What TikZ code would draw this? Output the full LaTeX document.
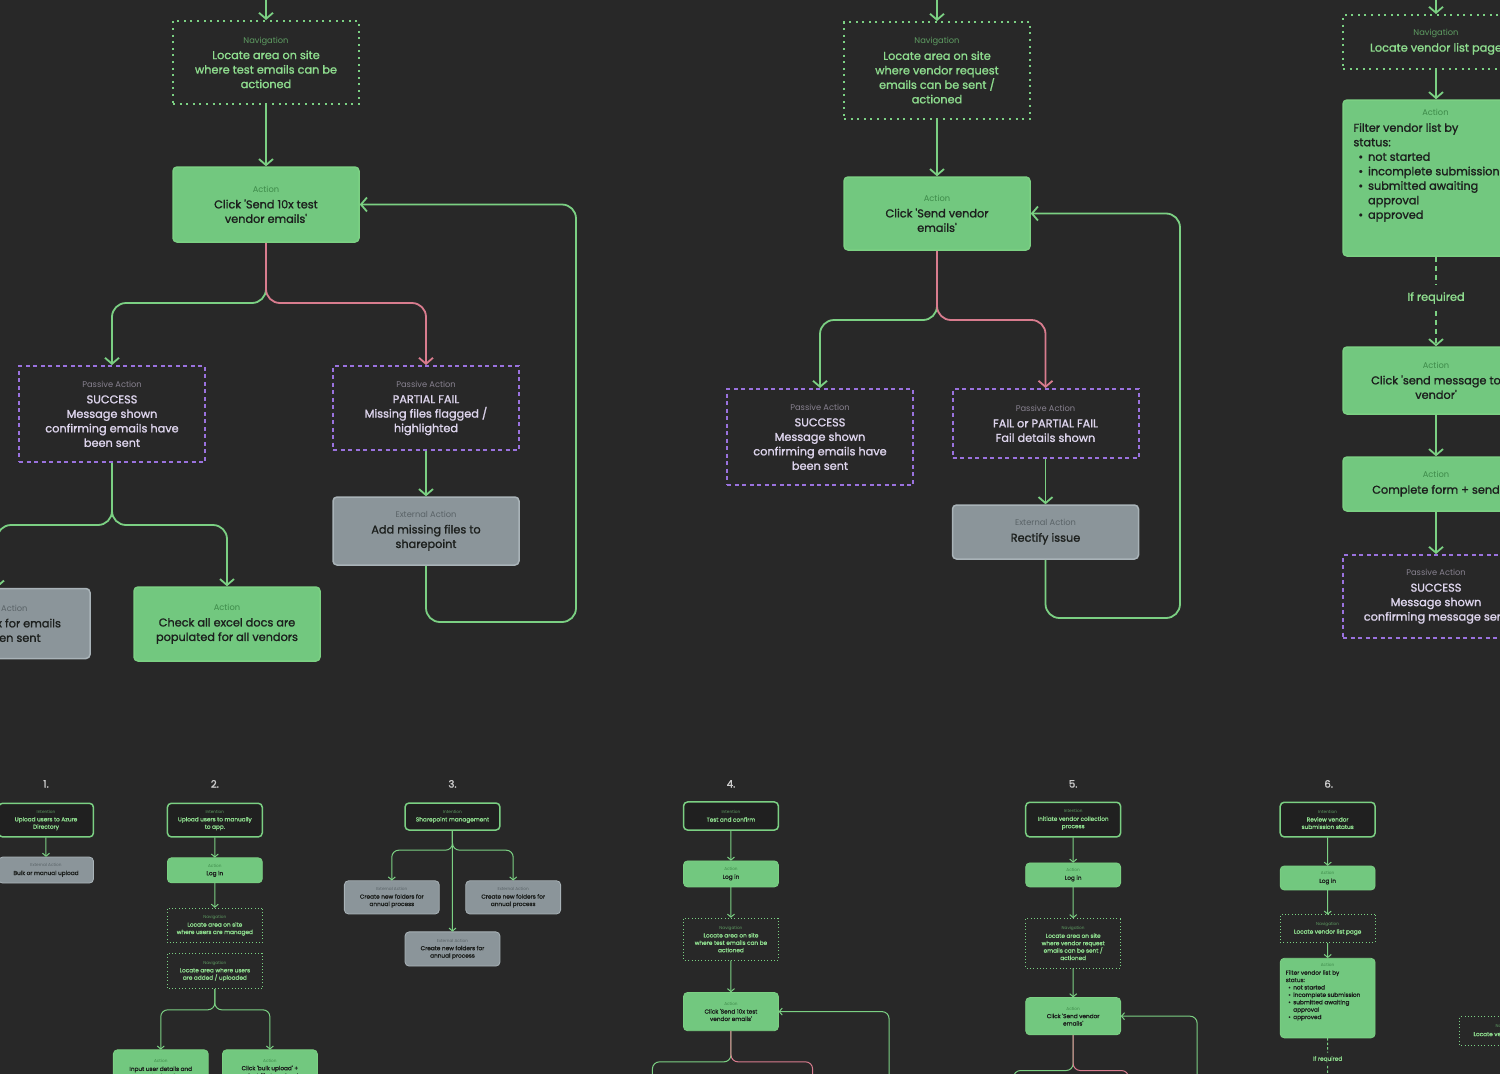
\documentclass[tikz,border=0pt]{standalone}
\usepackage{fontspec}
\setmainfont{Poppins}
\newfontfamily\boxfont[FakeBold=1.4]{Poppins}
\usetikzlibrary{arrows.meta}

\definecolor{bgcol}{HTML}{282828}
\definecolor{grfill}{HTML}{72C87F}
\definecolor{grline}{HTML}{7BD083}
\definecolor{pkline}{HTML}{D87C8E}
\definecolor{puline}{HTML}{9A72DE}
\definecolor{gyfill}{HTML}{8B959A}
\definecolor{gyline}{HTML}{A9B3B8}
\definecolor{navtxt}{HTML}{8EDC8E}
\definecolor{navlbl}{HTML}{5E9C62}
\definecolor{actlbl}{HTML}{3E8A4A}
\definecolor{darktxt}{HTML}{1C1F1D}
\definecolor{pastxt}{HTML}{DDD4EC}
\definecolor{paslbl}{HTML}{87818F}
\definecolor{gylbl}{HTML}{5A6367}
\definecolor{numtxt}{HTML}{CFCFCF}
\colorlet{hdcol}{navlbl}

\tikzset{
  boxbase/.style={minimum width=186pt, align=center, inner sep=3pt,
    font=\boxfont\fontsize{11.3}{14.5}\selectfont},
  solidline/.style={line width=1.5pt},
  navline/.style={line width=2pt, dash pattern=on 2pt off 4.6pt},
  pasline/.style={line width=2pt, dash pattern=on 4pt off 3.5pt},
  intline/.style={line width=3pt},
  navbox/.style={boxbase, draw=grline, navline, text=navtxt,
    execute at begin node={\colorlet{hdcol}{navlbl}}},
  actbox/.style={boxbase, fill=grfill, draw=grline, solidline, rounded corners=4pt,
    text=darktxt, execute at begin node={\colorlet{hdcol}{actlbl}}},
  extbox/.style={boxbase, fill=gyfill, draw=gyline, solidline, rounded corners=4pt,
    text=darktxt, execute at begin node={\colorlet{hdcol}{gylbl}}},
  pasbox/.style={boxbase, draw=puline, pasline, text=pastxt,
    execute at begin node={\colorlet{hdcol}{paslbl}}},
  intbox/.style={boxbase, fill=bgcol!80!black, draw=grline, intline, rounded corners=4pt,
    text=navtxt, execute at begin node={\colorlet{hdcol}{navlbl}}},
  numlbl/.style={text=numtxt, font=\boxfont\fontsize{20}{24}\selectfont},
  ifnode/.style={text=navtxt, inner sep=7pt, font=\boxfont\fontsize{11.3}{14}\selectfont},
  wire/.style={line width=1.8pt, rounded corners=14pt, grline},
  dotwire/.style={dash pattern=on 5pt off 4pt},
  fwd/.style={-{Straight Barb[length=6pt, width=14pt]}},
}

\newcommand{\hd}[1]{{\normalfont\fontsize{8.3}{10}\selectfont\color{hdcol}#1}\\[1.5pt]}

\newcommand{\flowrow}{%
  % 1.
  \node[numlbl] (n1) at (-1077,-242) {1.};
  \node[intbox, minimum height=66pt] (c1int) at (-1077,-171) {\hd{Intention}Upload users to Azure\\Directory};
  \node[extbox, minimum height=51pt] (c1ext) at (-1077,-73) {\hd{External Action}Bulk or manual upload};
  \draw[wire, fwd] (c1int) -- (c1ext);
  % 2.
  \node[numlbl] (n2) at (-746,-242) {2.};
  \node[intbox, minimum height=66pt] (c2int) at (-746,-171) {\hd{Intention}Upload users to manually\\to app.};
  \node[actbox, minimum height=49pt] (c2log) at (-746,-72.5) {\hd{Action}Log in};
  \node[navbox, minimum height=68pt] (c2nav1) at (-746,35.5) {\hd{Navigation}Locate area on site\\where users are managed};
  \node[navbox, minimum height=70pt] (c2nav2) at (-746,125) {\hd{Navigation}Locate area where users\\are added / uploaded};
  \coordinate (c2j) at (-746,201);
  \node[actbox, minimum height=75pt] (c2add) at (-852,317) {\hd{Action}Input user details and\\click 'add'};
  \node[actbox, minimum height=75pt] (c2bulk) at (-638,317) {\hd{Action}Click 'bulk upload' +\\select file to upload};
  \draw[wire, fwd] (c2int) -- (c2log);
  \draw[wire, fwd] (c2log) -- (c2nav1);
  \draw[wire, fwd] (c2nav2) -- (c2j) -| (c2add);
  \draw[wire, fwd] (c2nav2) -- (c2j) -| (c2bulk);
  % 3.
  \node[numlbl] (n3) at (-280,-242) {3.};
  \node[intbox, minimum height=53pt] (c3int) at (-280,-178) {\hd{Intention}Sharepoint management};
  \coordinate (c3j) at (-280,-112);
  \node[extbox, minimum height=65pt] (c3l) at (-399,-19.5) {\hd{External Action}Create new folders for\\annual process};
  \node[extbox, minimum height=65pt] (c3r) at (-161,-19.5) {\hd{External Action}Create new folders for\\annual process};
  \node[extbox, minimum height=67pt] (c3m) at (-280,81.7) {\hd{External Action}Create new folders for\\annual process};
  \draw[wire, fwd] (c3int) -- (c3j) -| (c3l);
  \draw[wire, fwd] (c3int) -- (c3j) -| (c3r);
  \draw[wire, fwd] (c3int) -- (c3m);
  % 4.
  \node[numlbl] (n4) at (266,-242) {4.};
  \node[intbox, minimum height=55pt] (c4int) at (266,-179) {\hd{Intention}Test and confirm};
  \node[actbox, minimum height=51pt] (c4log) at (266,-65.5) {\hd{Action}Log in};
  \node[navbox, minimum height=83pt] (c4nav) at (266,62.5) {\hd{Navigation}Locate area on site\\where test emails can be\\actioned};
  \node[actbox, minimum height=75pt] (c4act) at (266,204.5) {\hd{Action}Click 'Send 10x test\\vendor emails'};
  \coordinate (c4j) at (266,303);
  \node[pasbox, minimum height=96pt] (c4ok) at (112,414) {\hd{Passive Action}SUCCESS\\Message shown\\confirming emails have\\been sent};
  \node[pasbox, minimum height=84pt] (c4part) at (426,408) {\hd{Passive Action}PARTIAL FAIL\\Missing files flagged /\\highlighted};
  \node[extbox, minimum height=68pt] (c4fix) at (426,531) {\hd{External Action}Add missing files to\\sharepoint};
  \coordinate (c4loop) at (576,622);
  \coordinate (c4k) at (112,525);
  \node[extbox, minimum height=70pt] (c4inbox) at (-3,623.5) {\hd{External Action}Check inbox for emails\\have been sent};
  \node[actbox, minimum height=74pt] (c4xls) at (227,624) {\hd{Action}Check all excel docs are\\populated for all vendors};
  \draw[wire, fwd] (c4int) -- (c4log);
  \draw[wire, fwd] (c4log) -- (c4nav);
  \draw[wire, fwd] (c4nav) -- (c4act);
  \draw[wire, fwd] (c4act) -- (c4j) -| (c4ok);
  \draw[wire, fwd, pkline] (c4act) -- (c4j) -| (c4part);
  \draw[wire, fwd] (c4part) -- (c4fix);
  \draw[wire, fwd] (c4fix) |- (c4loop) |- (c4act);
  \draw[wire, fwd] (c4ok) -- (c4k) -| (c4inbox);
  \draw[wire, fwd] (c4ok) -- (c4k) -| (c4xls);
  % 5.
  \node[numlbl] (n5) at (937,-242) {5.};
  \node[intbox, minimum height=68pt] (c5int) at (937,-172) {\hd{Intention}Initiate vendor collection\\process};
  \node[actbox, minimum height=47pt] (c5log) at (937,-63.5) {\hd{Action}Log in};
  \node[navbox, minimum height=97pt] (c5nav) at (937,70.5) {\hd{Navigation}Locate area on site\\where vendor request\\emails can be sent /\\actioned};
  \node[actbox, minimum height=73pt] (c5act) at (937,213.5) {\hd{Action}Click 'Send vendor\\emails'};
  \coordinate (c5j) at (937,320);
  \node[pasbox, minimum height=96pt] (c5ok) at (820,437) {\hd{Passive Action}SUCCESS\\Message shown\\confirming emails have\\been sent};
  \node[pasbox, minimum height=69pt] (c5fail) at (1045.5,423.5) {\hd{Passive Action}FAIL or PARTIAL FAIL\\Fail details shown};
  \node[extbox, minimum height=54pt] (c5fix) at (1045.5,532) {\hd{External Action}Rectify issue};
  \coordinate (c5loop) at (1180,618);
  \draw[wire, fwd] (c5int) -- (c5log);
  \draw[wire, fwd] (c5log) -- (c5nav);
  \draw[wire, fwd] (c5nav) -- (c5act);
  \draw[wire, fwd] (c5act) -- (c5j) -| (c5ok);
  \draw[wire, fwd, pkline] (c5act) -- (c5j) -| (c5fail);
  \draw[wire, fwd] (c5fail) -- (c5fix);
  \draw[wire, fwd] (c5fix) |- (c5loop) |- (c5act);
  % 6.
  \node[numlbl] (n6) at (1438,-242) {6.};
  \node[intbox, minimum height=68pt] (c6int) at (1436,-172) {\hd{Intention}Review vendor\\submission status};
  \node[actbox, minimum height=47pt] (c6log) at (1436,-57.5) {\hd{Action}Log in};
  \node[navbox, minimum height=54pt] (c6nav) at (1436,42) {\hd{Navigation}Locate vendor list page};
  \node[actbox, minimum height=156pt] (c6filt) at (1436,178) {};
  \node[anchor=north west, align=left, inner sep=0pt, text=darktxt,
    font=\boxfont\fontsize{11.3}{14.5}\selectfont] (c6list) at ([shift={(11,10)}]c6filt.north west)
    {\makebox[164pt]{\normalfont\fontsize{8.3}{10}\selectfont\color{actlbl}Action}\\[1.5pt]
     Filter vendor list by\\status:\\
     \hspace*{5pt}\textbullet\hspace{5pt}not started\\
     \hspace*{5pt}\textbullet\hspace{5pt}incomplete submission\\
     \hspace*{5pt}\textbullet\hspace{5pt}submitted awaiting\\
     \hspace*{5pt}\phantom{\textbullet}\hspace{5pt}approval\\
     \hspace*{5pt}\textbullet\hspace{5pt}approved};
  \node[ifnode] (c6if) at (1436,298) {If required};
  \node[actbox, minimum height=67pt] (c6send) at (1436,380.5) {\hd{Action}Click 'send message to\\vendor'};
  \node[actbox, minimum height=54pt] (c6form) at (1436,484) {\hd{Action}Complete form + send};
  \node[pasbox, minimum height=83pt] (c6ok) at (1436,596.5) {\hd{Passive Action}SUCCESS\\Message shown\\confirming message sent};
  \draw[wire, fwd] (c6int) -- (c6log);
  \draw[wire, fwd] (c6log) -- (c6nav);
  \draw[wire, fwd] (c6nav) -- (c6filt);
  \draw[wire, dotwire] (c6filt) -- (c6if);
  \draw[wire, dotwire, fwd] (c6if) -- (c6send);
  \draw[wire, fwd] (c6send) -- (c6form);
  \draw[wire, fwd] (c6form) -- (c6ok);
  % next flow, cut off
  \node[navbox, minimum height=57pt] (c7nav) at (1788,243) {\hd{Navigation}Locate vendor list page};
}

\begin{document}
\begin{tikzpicture}[x=1pt, y=-1pt]
\useasboundingbox (0,0) rectangle (1500,1074);
\clip (0,0) rectangle (1500,1074);
\fill[bgcol] (0,0) rectangle (1500,1074);

% zoomed view
\begin{scope}
  \clip (0,0) rectangle (1500,740);
  \flowrow
\end{scope}

% overview row
\begin{scope}[shift={(595.3,907.3)}, scale=0.51, transform shape,
  solidline/.style={line width=0.8pt},
  navline/.style={line width=1pt, dash pattern=on 1pt off 2.3pt},
  pasline/.style={line width=1pt, dash pattern=on 2pt off 1.8pt},
  intline/.style={line width=1.5pt},
  wire/.style={line width=1pt, rounded corners=7pt, grline},
  dotwire/.style={dash pattern=on 2.5pt off 2pt},
  fwd/.style={-{Straight Barb[length=3pt, width=7pt]}}]
  \flowrow
\end{scope}
\end{tikzpicture}
\end{document}
